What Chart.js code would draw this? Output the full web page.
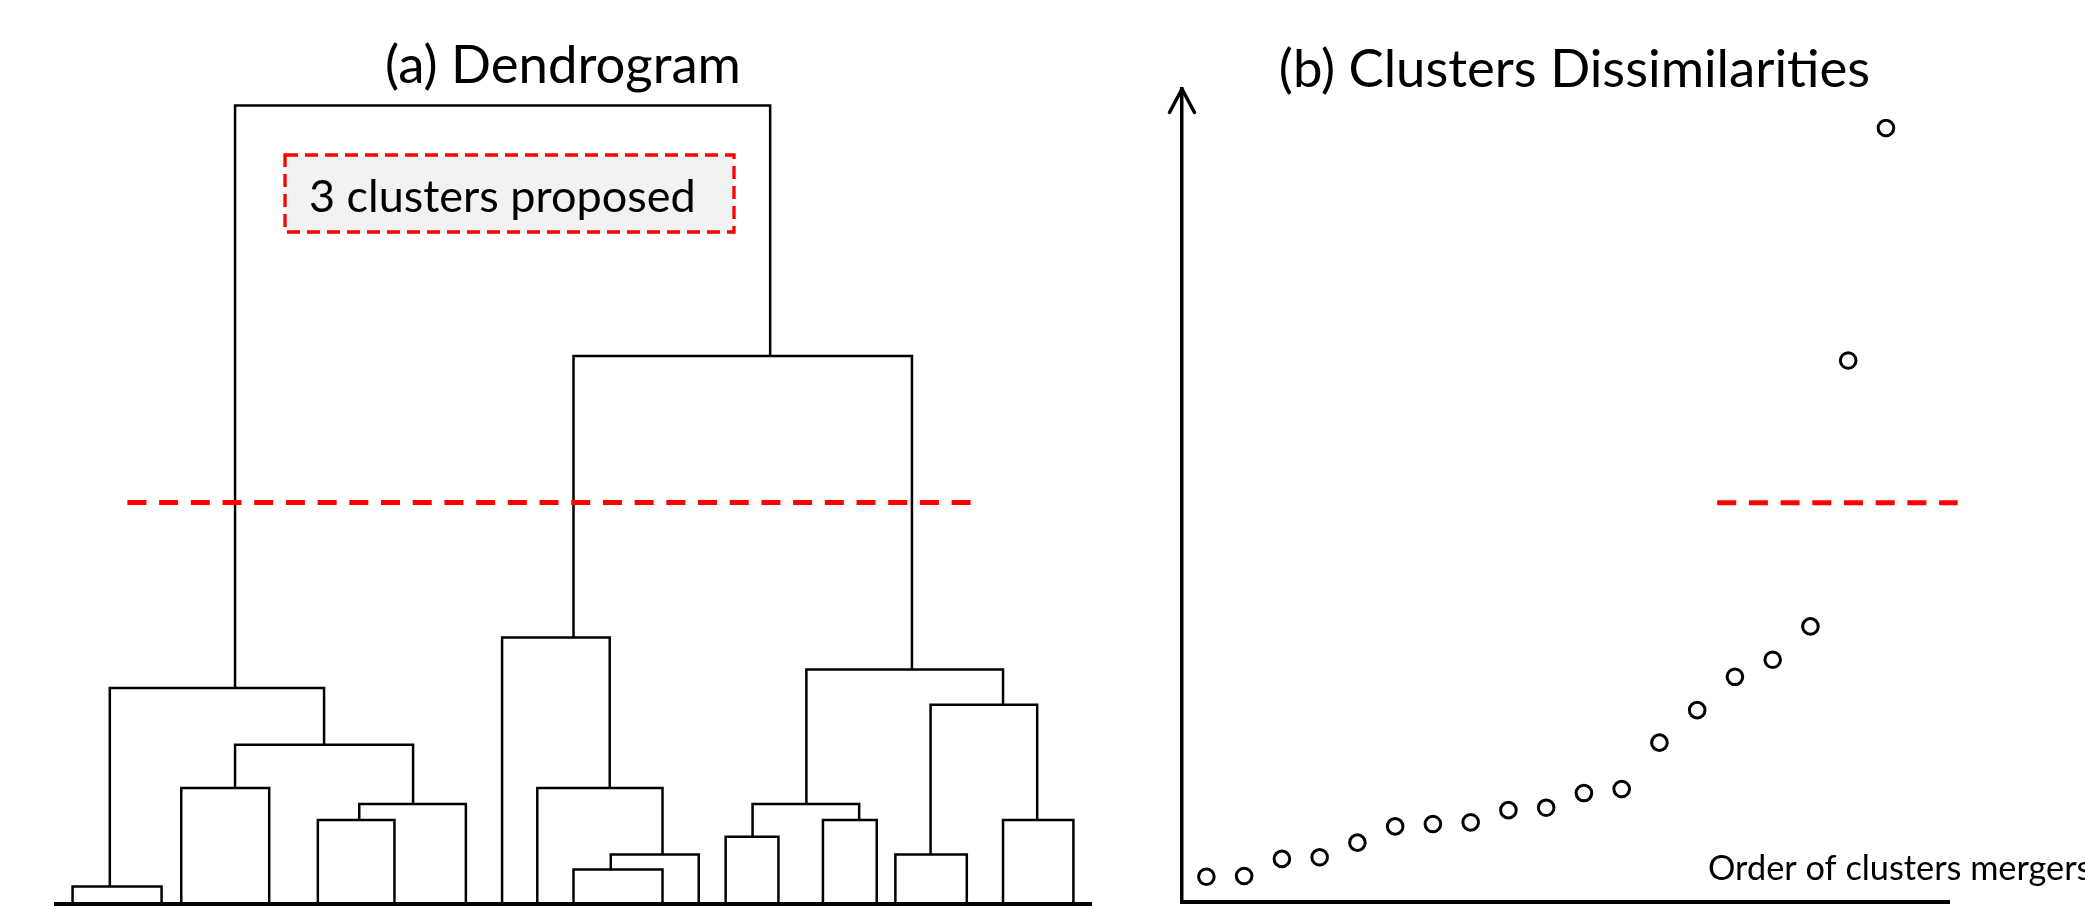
<!DOCTYPE html>
<html>
<head>
<meta charset="utf-8">
<script src="https://cdn.jsdelivr.net/npm/chart.js@4.4.1/dist/chart.umd.min.js"></script>
<style>
  html, body { margin: 0; padding: 0; background: #fff; }
  body { width: 2085px; height: 909px; position: relative; overflow: hidden; }
  canvas { position: absolute; top: 0; }
  #dendro { left: 0; }
  #dissim { left: 1110px; }
</style>
</head>
<body>
<canvas id="dendro" width="1110" height="909"></canvas>
<canvas id="dissim" width="975" height="909"></canvas>
<script>
// (a) dendrogram: 20 leaves along a 0-100 axis, heights on a 0-100 scale
const leafX = [1.6, 10.2, 12.1, 20.6, 25.3, 32.7, 39.6, 43.1, 46.5, 50.0,
               58.6, 62.1, 64.7, 69.8, 74.1, 79.3, 81.1, 88.0, 91.5, 98.3];
// merge k joins mergeLeft[k] and mergeRight[k] (index < 20 is a leaf, else merge index-20)
const mergeLeft   = [0, 2, 4, 22, 21, 20, 9, 26, 8, 7, 12, 14, 30, 16, 18, 33, 32, 29, 25];
const mergeRight  = [1, 3, 5, 6, 23, 24, 10, 11, 27, 28, 13, 15, 31, 17, 19, 34, 35, 36, 37];
const mergeHeight = [2.2, 14.5, 10.5, 12.5, 19.9, 27.0, 4.3, 6.2, 14.5, 33.3,
                     8.4, 10.5, 12.5, 6.2, 10.5, 24.9, 29.3, 68.5, 99.8];
// where the stem leaves each merge (hand drawn, not always the midpoint)
const stemX = [5.2, 17.3, 29.3, 34.5, 25.9, 17.3, 53.6, 58.6, 53.5, 50.0,
               67.3, 77.6, 72.5, 84.5, 94.8, 91.5, 82.7, 69.0, 44.0];
const dendroCut = 50.2;

// (b) dissimilarity of each merger, in merge order
const mergeOrder = [1, 2, 3, 4, 5, 6, 7, 8, 9, 10, 11, 12, 13, 14, 15, 16, 17, 18, 19];
const dissimilarity = [3.1, 3.2, 5.3, 5.5, 7.3, 9.3, 9.6, 9.8, 11.3, 11.6,
                       13.4, 13.9, 19.6, 23.6, 27.7, 29.8, 33.9, 66.6, 95.2];
const dissimCut = 49.1;

const FONT = 'Lato, "Open Sans", sans-serif';
const measureCtx = document.createElement('canvas').getContext('2d');
function fitFont(text, width) {
  measureCtx.font = '100px ' + FONT;
  const size = 100 * width / measureCtx.measureText(text).width;
  return size.toFixed(1) + 'px ' + FONT;
}

const nLeaves = leafX.length;
function nodeX(i) { return i < nLeaves ? leafX[i] : stemX[i - nLeaves]; }
function nodeH(i) { return i < nLeaves ? 0 : mergeHeight[i - nLeaves]; }

// axis that only shows its line, no ticks
function bareAxis(min, max, width) {
  return {
    type: 'linear', min: min, max: max,
    grid: { display: false, drawTicks: false },
    ticks: { display: false },
    border: { display: true, color: '#000', width: width }
  };
}

// U shapes of the dendrogram
const linkSets = mergeHeight.map((h, k) => {
  const a = mergeLeft[k], b = mergeRight[k];
  return {
    data: [
      { x: nodeX(a), y: nodeH(a) },
      { x: nodeX(a), y: h },
      { x: nodeX(b), y: h },
      { x: nodeX(b), y: nodeH(b) }
    ],
    showLine: true,
    borderColor: '#000',
    borderWidth: 2.5,
    pointRadius: 0,
    borderJoinStyle: 'miter',
    clip: false
  };
});

const dendroDecor = {
  id: 'dendroDecor',
  afterDraw(chart) {
    const ctx = chart.ctx;
    ctx.save();
    ctx.fillStyle = '#000';
    ctx.textBaseline = 'alphabetic';
    ctx.textAlign = 'center';
    ctx.font = fitFont('(a) Dendrogram', 356);
    ctx.fillText('(a) Dendrogram', 563, 83);

    // "3 clusters proposed" call-out
    ctx.fillStyle = '#f2f2f2';
    ctx.fillRect(285, 155, 449, 77);
    ctx.strokeStyle = '#ff0000';
    ctx.lineWidth = 3.3;
    ctx.setLineDash([13, 7]);
    ctx.strokeRect(285, 155, 449, 77);
    ctx.setLineDash([]);
    ctx.fillStyle = '#000';
    ctx.textAlign = 'left';
    ctx.font = fitFont('3 clusters proposed', 387);
    ctx.fillText('3 clusters proposed', 309, 212);
    ctx.restore();
  }
};

new Chart(document.getElementById('dendro').getContext('2d'), {
  type: 'scatter',
  data: {
    datasets: [{
      data: [{ x: 6.9, y: dendroCut }, { x: 88.5, y: dendroCut }],
      showLine: true,
      borderColor: '#ff0000',
      borderWidth: 5,
      borderDash: [19, 12.7],
      pointRadius: 0,
      clip: false
    }].concat(linkSets)
  },
  options: {
    responsive: false,
    animation: false,
    layout: { autoPadding: false, padding: { left: 56, right: 19, top: 104, bottom: 5 } },
    scales: {
      x: bareAxis(0, 100, 4),
      y: { type: 'linear', min: 0, max: 100, display: false }
    },
    plugins: { legend: { display: false }, tooltip: { enabled: false } }
  },
  plugins: [dendroDecor]
});

const dissimDecor = {
  id: 'dissimDecor',
  afterDraw(chart) {
    const { ctx, chartArea: a } = chart;
    ctx.save();
    // arrow head on the y axis
    ctx.strokeStyle = '#000';
    ctx.lineWidth = 3.5;
    ctx.lineCap = 'round';
    ctx.lineJoin = 'round';
    ctx.beginPath();
    ctx.moveTo(a.left - 12.5, a.top + 23.5);
    ctx.lineTo(a.left, a.top);
    ctx.lineTo(a.left + 12.5, a.top + 23.5);
    ctx.stroke();

    ctx.fillStyle = '#000';
    ctx.textBaseline = 'alphabetic';
    ctx.textAlign = 'center';
    ctx.font = fitFont('(b) Clusters Dissimilarities', 591);
    ctx.fillText('(b) Clusters Dissimilarities', 464.5, 87);

    ctx.textAlign = 'left';
    ctx.font = fitFont('Order of clusters merger', 369);
    ctx.fillText('Order of clusters mergers', 598, 880);
    ctx.restore();
  }
};

new Chart(document.getElementById('dissim').getContext('2d'), {
  type: 'scatter',
  data: {
    datasets: [{
      data: [{ x: 14.53, y: dissimCut }, { x: 20.9, y: dissimCut }],
      showLine: true,
      borderColor: '#ff0000',
      borderWidth: 5,
      borderDash: [19, 12.7],
      pointRadius: 0,
      clip: false
    }, {
      data: mergeOrder.map((o, i) => ({ x: o, y: dissimilarity[i] })),
      showLine: false,
      pointRadius: 7.8,
      pointBorderWidth: 3,
      pointBorderColor: '#000',
      pointBackgroundColor: '#fff',
      clip: false
    }]
  },
  options: {
    responsive: false,
    animation: false,
    layout: { autoPadding: false, padding: { left: 72, right: 136, top: 89, bottom: 7 } },
    scales: {
      x: bareAxis(0.354, 20.67, 4),
      y: bareAxis(0, 100, 3.5)
    },
    plugins: { legend: { display: false }, tooltip: { enabled: false } }
  },
  plugins: [dissimDecor]
});
</script>
</body>
</html>
